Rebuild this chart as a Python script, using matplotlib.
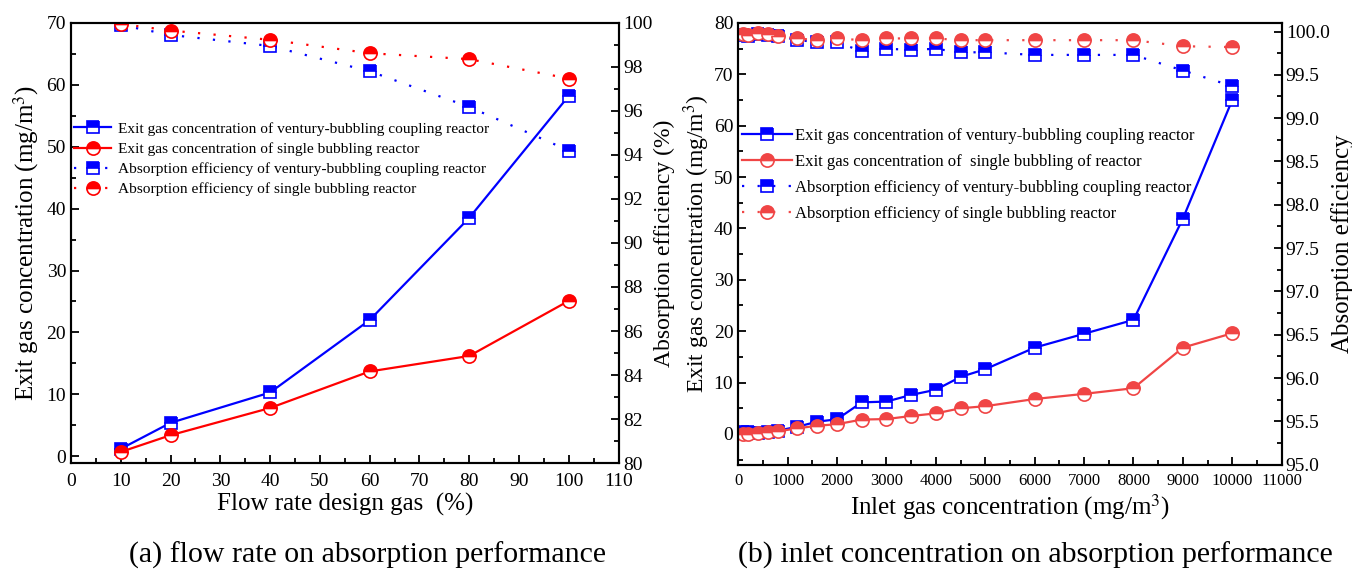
import numpy as np
import matplotlib.pyplot as plt
from matplotlib.ticker import MultipleLocator, FormatStrFormatter

plt.rcParams['font.family'] = ['Liberation Serif', 'DejaVu Serif']
plt.rcParams['mathtext.fontset'] = 'stix'

# =============================
# Data, panel (a): flow rate
# =============================
flow = [10, 20, 40, 60, 80, 100]
exit_vent_a = [1.2, 5.4, 10.3, 22.0, 38.5, 58.2]
exit_single_a = [0.7, 3.4, 7.8, 13.7, 16.2, 25.1]
eff_vent_a = [99.9, 99.45, 98.95, 97.8, 96.18, 94.2]
eff_single_a = [99.95, 99.65, 99.23, 98.62, 98.35, 97.47]

# =============================
# Data, panel (b): inlet concentration
# =============================
inlet = [100, 200, 400, 600, 800, 1200, 1600, 2000, 2500, 3000, 3500,
         4000, 4500, 5000, 6000, 7000, 8000, 9000, 10000]
exit_vent_b = [0.3, 0.3, 0.2, 0.3, 0.65, 1.4, 2.4, 2.85, 6.15, 6.3, 7.6,
               8.6, 11.1, 12.6, 16.8, 19.5, 22.2, 41.9, 65.0]
exit_single_b = [0.0, 0.0, 0.1, 0.3, 0.5, 1.1, 1.6, 1.9, 2.8, 2.9, 3.5,
                 4.0, 5.0, 5.4, 6.8, 7.8, 8.9, 16.8, 19.6]
eff_vent_b = [99.96, 99.95, 99.97, 99.96, 99.95, 99.9, 99.88, 99.88, 99.77,
              99.8, 99.79, 99.8, 99.76, 99.76, 99.73, 99.73, 99.73, 99.55, 99.37]
eff_single_b = [99.97, 99.96, 99.98, 99.97, 99.95, 99.92, 99.9, 99.92, 99.9,
                99.92, 99.92, 99.92, 99.9, 99.9, 99.9, 99.9, 99.9, 99.83, 99.82]

labels_a = ["Exit gas concentration of ventury-bubbling coupling reactor",
            "Exit gas concentration of single bubbling reactor",
            "Absorption efficiency of ventury-bubbling coupling reactor",
            "Absorption efficiency of single bubbling reactor"]
labels_b = ["Exit gas concentration of ventury-bubbling coupling reactor",
            "Exit gas concentration of  single bubbling of reactor",
            "Absorption efficiency of ventury-bubbling coupling reactor",
            "Absorption efficiency of single bubbling reactor"]

BLUE = "#0000FF"
dots = (0, (1, 6))
LABEL_FS = 18


def style(color, marker, ls, ms):
    return dict(color=color, marker=marker, linestyle=ls, lw=1.6, ms=ms,
                fillstyle='top', markerfacecolor=color,
                markerfacecoloralt='white', markeredgecolor=color,
                markeredgewidth=1.2)


def setup_ticks(ax):
    ax.tick_params(direction='in', which='both', labelsize=14, width=1.3)
    ax.tick_params(which='major', length=6)
    ax.tick_params(which='minor', length=3.5)
    for s in ax.spines.values():
        s.set_linewidth(1.5)


fig = plt.figure(figsize=(13.52, 5.71), dpi=100)

# =============================
# Panel (a)
# =============================
ax = fig.add_axes([0.0525, 0.189, 0.405, 0.771])
ax2 = ax.twinx()
red_a = "#FF0000"
h1, = ax.plot(flow, exit_vent_a, **style(BLUE, 's', '-', 8))
h2, = ax.plot(flow, exit_single_a, **style(red_a, 'o', '-', 9.5))
h3, = ax2.plot(flow, eff_vent_a, **style(BLUE, 's', dots, 8))
h4, = ax2.plot(flow, eff_single_a, **style(red_a, 'o', dots, 9.5))

ax.set_xlim(0, 110)
ax.set_ylim(-1.1, 70)
ax2.set_ylim(80, 100)
ax.xaxis.set_major_locator(MultipleLocator(10))
ax.xaxis.set_minor_locator(MultipleLocator(5))
ax.yaxis.set_major_locator(MultipleLocator(10))
ax.yaxis.set_minor_locator(MultipleLocator(5))
ax2.yaxis.set_major_locator(MultipleLocator(2))
ax2.yaxis.set_minor_locator(MultipleLocator(1))
setup_ticks(ax)
setup_ticks(ax2)
ax.tick_params(axis='x', pad=7)
ax.set_xlabel("Flow rate design gas  (%)", fontsize=LABEL_FS, labelpad=2)
ax.set_ylabel("Exit gas concentration (mg/m$^3$)", fontsize=LABEL_FS)
ax2.set_ylabel("Absorption efficiency (%)", fontsize=17, labelpad=1)
ax2.legend([h1, h2, h3, h4], labels_a, loc='upper left',
           bbox_to_anchor=(0.0, 0.782), frameon=False, fontsize=11.1,
           handlelength=2.4, handletextpad=0.45, labelspacing=0.42,
           borderaxespad=0, borderpad=0.2)

# =============================
# Panel (b)
# =============================
bx = fig.add_axes([0.546, 0.186, 0.402, 0.774])
bx2 = bx.twinx()
red_b = "#F04545"
g1, = bx.plot(inlet, exit_vent_b, **style(BLUE, 's', '-', 8))
g2, = bx.plot(inlet, exit_single_b, **style(red_b, 'o', '-', 9.5))
g3, = bx2.plot(inlet, eff_vent_b, **style(BLUE, 's', dots, 8))
g4, = bx2.plot(inlet, eff_single_b, **style(red_b, 'o', dots, 9.5))

bx.set_xlim(0, 11000)
bx.set_ylim(-6, 80)
bx2.set_ylim(95, 100.1)
bx.xaxis.set_major_locator(MultipleLocator(1000))
bx.xaxis.set_minor_locator(MultipleLocator(500))
bx.yaxis.set_major_locator(MultipleLocator(10))
bx.yaxis.set_minor_locator(MultipleLocator(5))
bx2.yaxis.set_major_locator(MultipleLocator(0.5))
bx2.yaxis.set_minor_locator(MultipleLocator(0.25))
bx2.yaxis.set_major_formatter(FormatStrFormatter('%.1f'))
setup_ticks(bx)
setup_ticks(bx2)
bx.tick_params(axis='x', labelsize=12, pad=6)
bx2.tick_params(axis='y', pad=3)
bx.set_xlabel("Inlet gas concentration (mg/m$^3$)", fontsize=LABEL_FS, labelpad=2)
bx.set_ylabel("Exit gas concentration (mg/m$^3$)", fontsize=17, labelpad=1)
bx2.set_ylabel("Absorption efficiency", fontsize=LABEL_FS, labelpad=1)
bx2.legend([g1, g2, g3, g4], labels_b, loc='upper left',
           bbox_to_anchor=(0.0, 0.77), frameon=False, fontsize=12,
           handlelength=3.0, handletextpad=0.2, labelspacing=0.6,
           borderaxespad=0, borderpad=0.2)

fig.text(0.272, 0.028, "(a) flow rate on absorption performance",
         ha='center', va='center', fontsize=21.5)
fig.text(0.766, 0.028, "(b) inlet concentration on absorption performance",
         ha='center', va='center', fontsize=21.5)

plt.savefig("out.png", dpi=100)
